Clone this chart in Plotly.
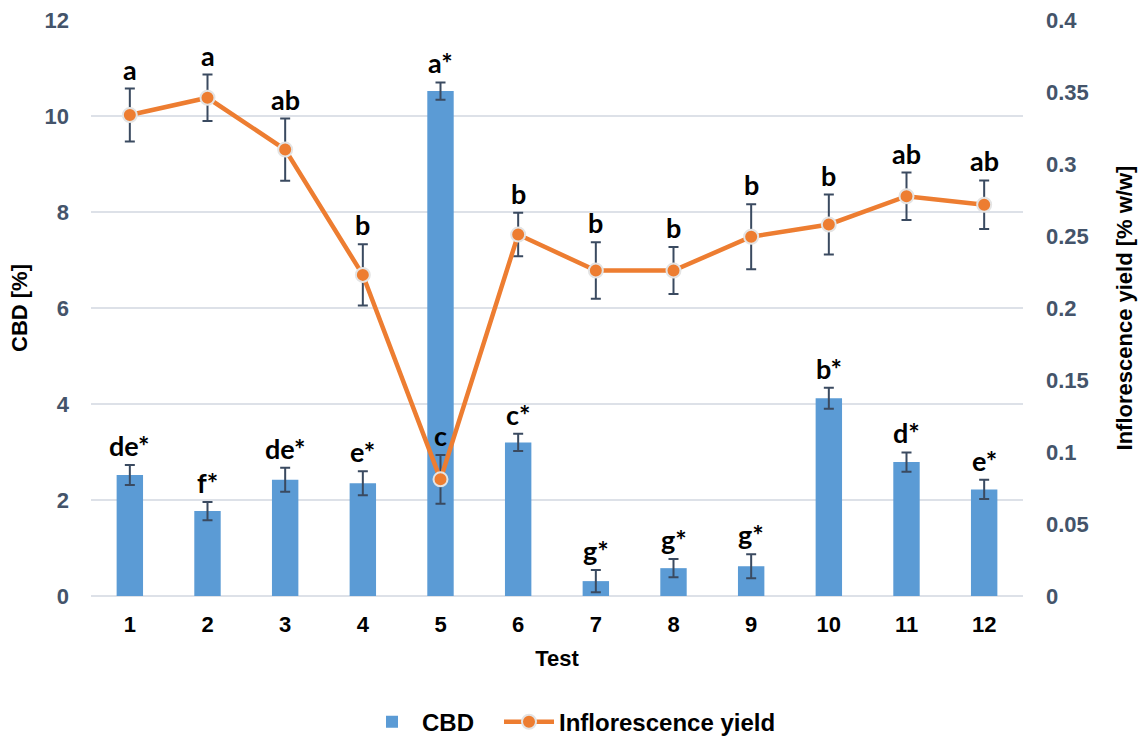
import plotly.graph_objects as go

tests = [1, 2, 3, 4, 5, 6, 7, 8, 9, 10, 11, 12]
test_labels = ["1", "2", "3", "4", "5", "6", "7", "8", "9", "10", "11", "12"]
cbd = [2.52, 1.77, 2.42, 2.35, 10.52, 3.2, 0.31, 0.58, 0.62, 4.12, 2.79, 2.22]
cbd_err = [0.21, 0.19, 0.25, 0.25, 0.18, 0.18, 0.23, 0.19, 0.25, 0.22, 0.2, 0.2]
cbd_letters = ["de*", "f*", "de*", "e*", "a*", "c*", "g*", "g*", "g*", "b*", "d*", "e*"]
yield_vals = [0.334, 0.346, 0.310, 0.223, 0.081, 0.251, 0.226, 0.226, 0.2495, 0.258, 0.2776, 0.2717]
yield_err = [0.0184, 0.0161, 0.0216, 0.0213, 0.017, 0.0151, 0.0196, 0.0163, 0.0226, 0.0208, 0.0165, 0.0169]
yield_letters = ["a", "a", "ab", "b", "c", "b", "b", "b", "b", "b", "ab", "ab"]

FAM = "Liberation Sans, Arial, sans-serif"
AX_FONT = dict(family=FAM, size=22, color="#44546A", weight="bold")
TITLE_FONT = dict(family=FAM, size=22, color="#000000", weight="bold")
LEG_FONT = dict(family=FAM, size=24, color="#000000", weight="bold")
LET_FONT = dict(family="Lato, Carlito, sans-serif", size=27, color="#000000", weight="bold")
ERR_COLOR = "#3A4A60"

fig = go.Figure()
fig.add_trace(go.Bar(
    x=tests, y=cbd, name="CBD", width=0.34,
    marker=dict(color="#5B9BD5", line=dict(width=0)),
    error_y=dict(type="data", array=cbd_err, color=ERR_COLOR, thickness=2, width=5),
    yaxis="y", legend="legend",
))
fig.add_trace(go.Scatter(
    x=tests, y=yield_vals, name="Inflorescence yield", mode="lines+markers",
    line=dict(color="#ED7D31", width=4.5),
    marker=dict(color="#ED7D31", size=14, line=dict(color="#E4E4E4", width=2)),
    error_y=dict(type="data", array=yield_err, color=ERR_COLOR, thickness=2, width=5),
    yaxis="y2", legend="legend2",
))

annotations = []
for t, v, e, s in zip(tests, cbd, cbd_err, cbd_letters):
    annotations.append(dict(x=t, y=v + e, xref="x", yref="y", text=s,
                            showarrow=False, yanchor="bottom", yshift=1, font=LET_FONT))
for t, v, e, s in zip(tests, yield_vals, yield_err, yield_letters):
    annotations.append(dict(x=t, y=v + e, xref="x", yref="y2", text=s,
                            showarrow=False, yanchor="bottom", yshift=1, font=LET_FONT))

fig.update_layout(
    width=1143, height=740,
    margin=dict(l=91, r=120, t=20, b=144, autoexpand=False),
    paper_bgcolor="white", plot_bgcolor="white",
    showlegend=True,
    legend=dict(orientation="h", x=(362 - 91) / 932, xanchor="left", y=-0.219, yanchor="middle",
                font=LEG_FONT, itemwidth=50, bgcolor="rgba(0,0,0,0)"),
    legend2=dict(orientation="h", x=(499 - 91) / 932, xanchor="left", y=-0.219, yanchor="middle",
                 font=LEG_FONT, itemwidth=50, bgcolor="rgba(0,0,0,0)"),
    xaxis=dict(range=[0.5, 12.5], tickvals=tests, ticktext=test_labels,
               tickfont=dict(family=FAM, size=22, color="#000000", weight="bold"),
               title=dict(text="Test", font=TITLE_FONT, standoff=14),
               showgrid=False, showline=False, zeroline=False, ticks="", ticklabelstandoff=13,
               automargin=False),
    yaxis=dict(range=[0, 12], dtick=2, tickfont=AX_FONT,
               title=dict(text="CBD [%]", font=TITLE_FONT, standoff=10),
               showgrid=True, gridcolor="#DDE1E8", gridwidth=2, zeroline=True,
               zerolinecolor="#DDE1E8", zerolinewidth=2, showline=False, ticks="",
               ticklabelstandoff=21, automargin=False),
    yaxis2=dict(range=[0, 0.4], dtick=0.05, overlaying="y", side="right", tickfont=AX_FONT,
                tickformat="~g",
                title=dict(text="Inflorescence yield [% w/w]", font=TITLE_FONT, standoff=28),
                showgrid=False, zeroline=False, showline=False, ticks="", ticklabelstandoff=22,
                automargin=False),
    annotations=annotations,
)

fig.write_html("out.html")
